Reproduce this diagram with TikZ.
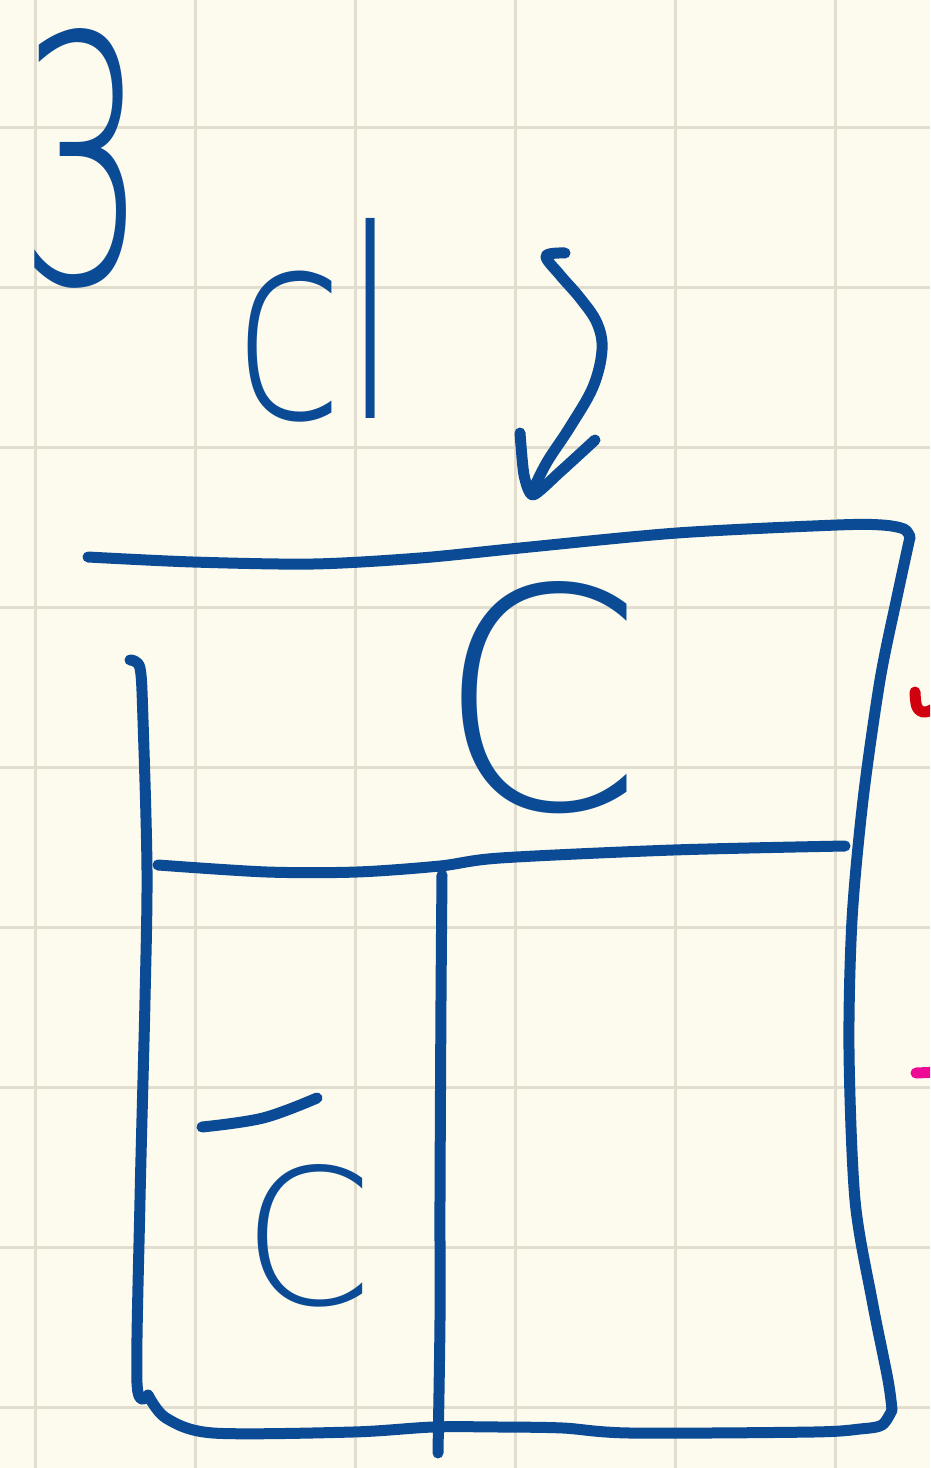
\documentclass[tikz,border=0pt]{standalone}
\usepackage{fontspec}
\usepackage{graphicx}
\newfontfamily\hand{DejaVu Sans ExtraLight}
\definecolor{paper}{HTML}{FDFBEE}
\definecolor{gridc}{HTML}{E2DECF}
\definecolor{ink}{HTML}{0B4A94}
\definecolor{redink}{HTML}{D0000E}
\definecolor{pinkink}{HTML}{EC0A96}
\begin{document}
\begin{tikzpicture}[x=1pt,y=-1pt,
  pen/.style={draw=ink,line width=11pt,line cap=round,line join=round},
  gridline/.style={draw=gridc,line width=3pt},
  handtext/.style={text=ink,inner sep=0pt,outer sep=0pt}]
\useasboundingbox (0,0) rectangle (930,1468);
\fill[paper] (0,0) rectangle (930,1468);
\begin{scope}
\clip (0,0) rectangle (930,1468);
% grid
\foreach \x in {35,195,355,515,675,835} \draw[gridline] (\x,0) -- (\x,1468);
\foreach \y in {127,287,447,607,767,927,1087,1247,1407} \draw[gridline] (0,\y) -- (930,\y);
% margin marks
\draw[draw=redink,line width=11pt,line cap=round,line join=round]
  plot[smooth,tension=0.6] coordinates {(915,692) (917,707) (925,712) (940,706)};
\draw[draw=pinkink,line width=11pt,line cap=round]
  (916,1073) -- (940,1072);
\end{scope}
% labels
\node[handtext] (three) at (84,158) {\resizebox{128pt}{255pt}{\hand 3}};
\node[handtext,anchor=south west] (cl) at (234,422) {\resizebox{165pt}{200pt}{\hand cl}};
\node[handtext] (bigC) at (540,698) {\resizebox{205pt}{228pt}{\hand C}};
\node[handtext] (smallC) at (308,1236) {\resizebox{130pt}{140pt}{\hand C}};
% bar over the lower C
\draw[pen] plot[smooth,tension=0.6] coordinates {(202,1127) (263,1118) (317,1098)};
% curved arrow
\draw[pen] plot[smooth,tension=0.6] coordinates {(565,253) (546,256) (560,275) (580,298) (597,323) (602,350) (593,387) (570,427) (547,462) (533,490)};
\draw[pen] plot[smooth,tension=0.4] coordinates {(520,433) (524,475) (533,495) (560,472) (595,440)};
% box: top edge
\draw[pen] plot[smooth,tension=0.5] coordinates {(88,557) (193,562) (313,564) (420,558) (520,548) (677,533) (837,525) (882,525) (904,529) (910,537)};
% right edge
\draw[pen] plot[smooth,tension=0.5] coordinates {(910,537) (897,597) (880,680) (863,800) (852,920) (849,1050) (855,1200) (872,1300) (888,1380) (892,1410)};
% bottom edge
\draw[pen] plot[smooth,tension=0.5] coordinates {(892,1410) (882,1425) (860,1429) (813,1432) (630,1433) (563,1428) (500,1427) (433,1427) (353,1432) (213,1433) (166,1418) (148,1395)};
% left edge
\draw[pen] plot[smooth,tension=0.5] coordinates {(130,660) (140,668) (143,720) (147,870) (145,1000) (140,1200) (137,1383) (148,1395)};
% middle horizontal
\draw[pen] plot[smooth,tension=0.5] coordinates {(158,865) (267,872) (357,872) (440,866) (500,858) (673,850) (845,846)};
% middle vertical
\draw[pen] plot[smooth,tension=0.5] coordinates {(442,875) (441,1000) (440,1200) (440,1320) (438,1453)};
\end{tikzpicture}
\end{document}
